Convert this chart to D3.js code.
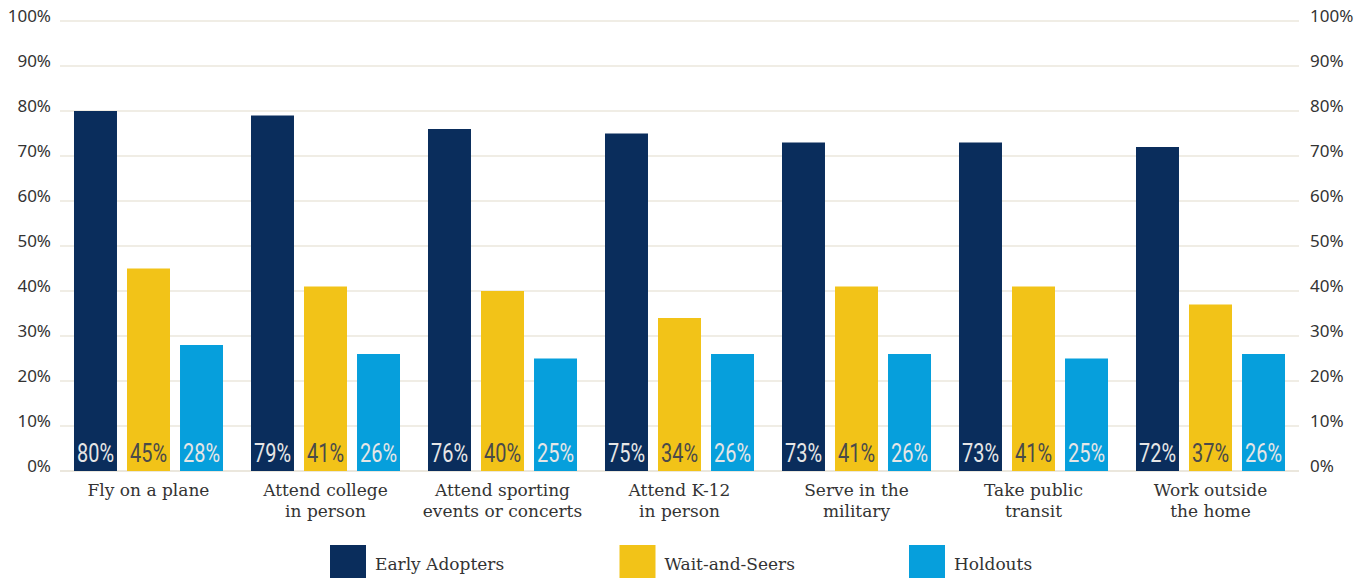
<!DOCTYPE html>
<html>
<head>
<meta charset="utf-8">
<script src="https://cdn.jsdelivr.net/npm/d3@7"></script>
<style>
  body { margin: 0; background: #fff; }
  svg { display: block; }
</style>
</head>
<body>
<svg width="1366" height="578"></svg>
<script>
const categories = [
  ["Fly on a plane"],
  ["Attend college", "in person"],
  ["Attend sporting", "events or concerts"],
  ["Attend K-12", "in person"],
  ["Serve in the", "military"],
  ["Take public", "transit"],
  ["Work outside", "the home"],
];
const seriesNames = ["Early Adopters", "Wait-and-Seers", "Holdouts"];
const earlyAdopters = [80, 79, 76, 75, 73, 73, 72];
const waitAndSeers = [45, 41, 40, 34, 41, 41, 37];
const holdouts = [28, 26, 25, 26, 26, 25, 26];
const yTicks = [0, 10, 20, 30, 40, 50, 60, 70, 80, 90, 100];

const colors = ["#0a2d5c", "#f2c318", "#069fdc"];
const labelColors = ["#e6e6e6", "#4a4a4a", "#e6e6e6"];
const values = [earlyAdopters, waitAndSeers, holdouts];

const plotLeft = 60, plotRight = 1299, plotTop = 21, plotBottom = 471;

const svg = d3.select("svg");

const x0 = d3.scaleBand().domain(d3.range(categories.length)).range([plotLeft, plotRight]).padding(0);
const x1 = d3.scaleBand().domain(d3.range(seriesNames.length)).range([0, x0.bandwidth()])
  .paddingInner(0.189).paddingOuter(0.264);
const y = d3.scaleLinear().domain([0, 100]).range([plotBottom, plotTop]);

// gridlines
svg.append("g")
  .selectAll("line")
  .data(yTicks)
  .join("line")
  .attr("x1", plotLeft)
  .attr("x2", plotRight)
  .attr("y1", (d) => y(d))
  .attr("y2", (d) => y(d))
  .attr("stroke", "#ebe7dd")
  .attr("stroke-width", (d) => (d === 0 ? 2 : 1.5));

// axes
const leftAxis = svg.append("g")
  .attr("transform", `translate(${plotLeft},0)`)
  .call(d3.axisLeft(y).tickValues(yTicks).tickFormat((d) => d + "%").tickSize(0).tickPadding(9));
leftAxis.select(".domain").remove();

const rightAxis = svg.append("g")
  .attr("transform", `translate(${plotRight},0)`)
  .call(d3.axisRight(y).tickValues(yTicks).tickFormat((d) => d + "%").tickSize(0).tickPadding(11));
rightAxis.select(".domain").remove();

svg.selectAll(".tick text")
  .attr("font-family", "'Noto Sans', 'Open Sans', sans-serif")
  .attr("font-size", 17)
  .attr("fill", "#333")
  .attr("dy", "0.05em");

// bars
const groups = svg.append("g")
  .selectAll("g")
  .data(categories)
  .join("g")
  .attr("transform", (d, i) => `translate(${x0(i)},0)`);

groups.selectAll("rect")
  .data((d, i) => values.map((v, s) => ({ s, v: v[i] })))
  .join("rect")
  .attr("x", (d) => x1(d.s))
  .attr("y", (d) => y(d.v))
  .attr("width", x1.bandwidth())
  .attr("height", (d) => y(0) - y(d.v))
  .attr("fill", (d) => colors[d.s]);

// condensed value labels (no narrow font installed, so squeeze them)
groups.selectAll("text.val")
  .data((d, i) => values.map((v, s) => ({ s, v: v[i] })))
  .join("text")
  .attr("class", "val")
  .attr("x", (d) => x1(d.s) + 3)
  .attr("y", y(0) - 9)
  .attr("font-family", "Roboto, sans-serif")
  .attr("font-size", 26)
  .attr("textLength", x1.bandwidth() - 6)
  .attr("lengthAdjust", "spacingAndGlyphs")
  .attr("fill", (d) => labelColors[d.s])
  .text((d) => d.v + "%");

// category labels
groups.append("text")
  .attr("x", x0.bandwidth() / 2)
  .attr("y", 496)
  .attr("text-anchor", "middle")
  .attr("font-family", "'DejaVu Serif', serif")
  .attr("font-size", 17)
  .attr("fill", "#333")
  .selectAll("tspan")
  .data((d) => d)
  .join("tspan")
  .attr("x", x0.bandwidth() / 2)
  .attr("dy", (d, i) => (i === 0 ? 0 : 21))
  .text((d) => d);

// legend
const legend = svg.append("g")
  .selectAll("g")
  .data(seriesNames)
  .join("g")
  .attr("transform", (d, i) => `translate(${330 + i * 289.5},545)`);

legend.append("rect")
  .attr("width", 36)
  .attr("height", 33)
  .attr("fill", (d, i) => colors[i]);

legend.append("text")
  .attr("x", 45)
  .attr("y", 25)
  .attr("font-family", "'DejaVu Serif', serif")
  .attr("font-size", 17)
  .attr("fill", "#333")
  .text((d) => d);
</script>
</body>
</html>
